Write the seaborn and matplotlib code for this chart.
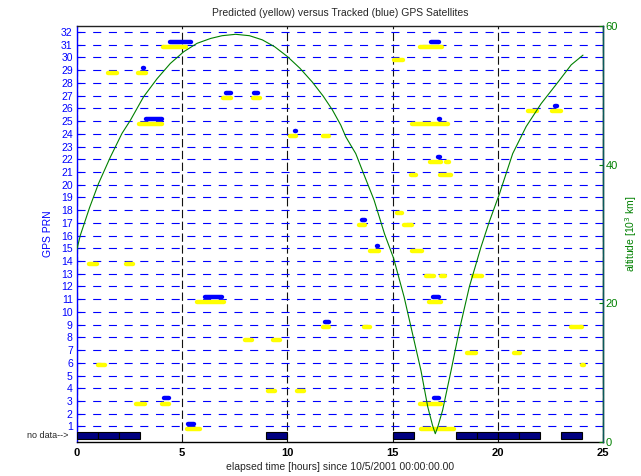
import matplotlib
matplotlib.use("Agg")
import matplotlib.pyplot as plt
import seaborn as sns

# predicted passes (yellow): PRN, start hour, end hour
pred_prn = [29, 29, 31, 25, 27, 27, 24, 24, 31, 30, 25, 22, 22, 21, 21, 18, 17, 17,
            26, 26, 14, 14, 6, 3, 3, 1, 11, 8, 8, 4, 4, 9, 15, 15, 13, 13, 13, 11,
            9, 9, 7, 7, 6, 3, 1]
pred_start = [1.50, 2.88, 4.07, 2.93, 6.96, 8.35, 10.13, 11.69, 16.32, 15.05, 15.94, 16.80, 17.56, 15.89, 17.27, 15.20, 13.40, 15.53,
              21.45, 22.59, 0.58, 2.32, 1.02, 2.80, 4.04, 5.21, 5.73, 8.00, 9.30, 9.07, 10.46, 11.69, 13.94, 15.92, 16.60, 17.28, 18.83, 16.73,
              13.62, 23.50, 18.55, 20.78, 24.02, 16.32, 16.37]
pred_end = [1.92, 3.28, 5.18, 4.06, 7.31, 8.72, 10.40, 12.00, 17.34, 15.50, 17.64, 17.32, 17.66, 16.12, 17.80, 15.47, 13.71, 15.93,
            21.88, 23.01, 0.96, 2.68, 1.33, 3.23, 4.39, 5.87, 7.01, 8.34, 9.63, 9.39, 10.77, 11.96, 14.34, 16.40, 16.96, 17.49, 19.25, 17.31,
            13.95, 24.02, 18.95, 21.05, 24.08, 17.30, 17.90]

# tracked passes (blue)
track_prn = [29, 31, 25, 27, 27, 24, 31, 25, 22, 17, 26, 3, 1, 11, 9, 15, 11, 3]
track_start = [3.15, 4.43, 3.27, 7.08, 8.43, 10.34, 16.84, 17.22, 17.16, 13.56, 22.72, 4.15, 5.30, 6.08, 11.80, 14.27, 16.92, 16.96]
track_end = [3.19, 5.42, 4.02, 7.30, 8.62, 10.43, 17.20, 17.26, 17.24, 13.71, 22.83, 4.39, 5.58, 6.88, 12.00, 14.33, 17.20, 17.20]

# hours with no data
nodata_start = [0, 1, 2, 9, 15, 18, 19, 20, 21, 23]

# altitude [10^3 km]
alt_hours = [0.0, 0.16, 0.6, 1.03, 1.59, 2.14, 2.54, 3.17, 3.81, 4.44, 5.08, 5.71, 6.35, 6.9, 7.54,
             8.2, 8.81, 9.4, 10.0, 10.6, 11.19, 11.7, 12.14, 12.54, 12.78, 13.25, 13.65, 14.12,
             14.62, 15.05, 15.55, 15.95, 16.35, 16.67, 16.9, 17.03, 17.15, 17.38, 17.78, 18.17,
             18.65, 19.2, 19.6, 20.08, 20.71, 21.35, 22.06, 22.86, 23.49, 24.05]
alt_km = [27.8, 29.8, 33.8, 37.3, 41.1, 44.5, 46.4, 49.8, 52.4, 54.6, 56.3, 57.5, 58.2, 58.6, 58.8,
          58.6, 58.0, 57.0, 55.6, 53.9, 51.9, 49.9, 47.9, 45.7, 44.0, 41.6, 38.5, 34.9,
          30.0, 26.5, 20.9, 15.6, 10.3, 5.1, 2.4, 1.2, 2.2, 4.6, 10.3, 16.1,
          22.4, 28.1, 31.8, 35.8, 41.6, 45.5, 48.8, 51.9, 54.4, 55.8]

sns.set_style("white")
plt.rcParams['font.family'] = ['Liberation Sans', 'DejaVu Sans']
plt.rcParams['lines.scale_dashes'] = False

fig = plt.figure(figsize=(6.41, 4.76), dpi=100)
ax = fig.add_axes([0.120, 0.0714, 0.8207, 0.8740])

ax.set_xlim(0, 25)
ax.set_ylim(-0.22, 32.47)
ax.set_yticks(range(1, 33))
ax.set_xticks(range(0, 26, 5))
ax.yaxis.grid(True, color='#0000ff', linestyle=(0, (5.8, 5.5)), linewidth=0.8)
ax.xaxis.grid(True, color='#111111', linestyle=(0, (6, 2.5)), linewidth=0.8)
ax.set_axisbelow(True)

ax.hlines([p - 0.2 for p in pred_prn], pred_start, pred_end, colors='#ffff00',
          linewidth=3.2, capstyle='round', zorder=3)
ax.hlines([p + 0.2 for p in track_prn], track_start, track_end, colors='#0000ff',
          linewidth=3.2, capstyle='round', zorder=4)
ax.bar(nodata_start, 0.53, width=1, bottom=0.03, align='edge', color='#000080',
       edgecolor='k', linewidth=0.8, zorder=3)
ax.text(-0.42, 0.3, 'no data-->', ha='right', va='center', fontsize=6.5)

ax.tick_params(axis='y', colors='#0000ff', labelsize=7.5, direction='in', length=3, pad=3)
ax.tick_params(axis='x', colors='k', labelsize=8, direction='in', length=3, pad=4)
for lab in ax.get_xticklabels():
    lab.set_fontweight('bold')
ax.set_ylabel('GPS PRN', color='#0000ff', fontsize=7.5, labelpad=6)
ax.set_xlabel('elapsed time [hours] since 10/5/2001 00:00:00.00', fontsize=7.5, labelpad=3)
ax.set_title('Predicted (yellow) versus Tracked (blue) GPS Satellites', fontsize=7.5, pad=7)
ax.spines['left'].set_color('#0000ff')
ax.spines['bottom'].set_color('k')
ax.spines['top'].set_color('#222222')
for s in ax.spines.values():
    s.set_linewidth(1.0)

ax2 = ax.twinx()
sns.lineplot(x=alt_hours, y=alt_km, ax=ax2, color='#008000', linewidth=0.8)
ax2.set_ylim(0, 60)
ax2.set_yticks([0, 20, 40, 60])
ax2.tick_params(axis='y', colors='#008000', labelsize=8, direction='in', length=3, pad=2)
ax2.set_ylabel('altitude [10$^3$ km]', color='#008000', fontsize=7.5, labelpad=4)
for side in ['left', 'top', 'bottom']:
    ax2.spines[side].set_visible(False)
ax2.spines['right'].set_color('#0a5a5a')
ax2.spines['right'].set_linewidth(1.0)

fig.savefig('out.png', dpi=100)
